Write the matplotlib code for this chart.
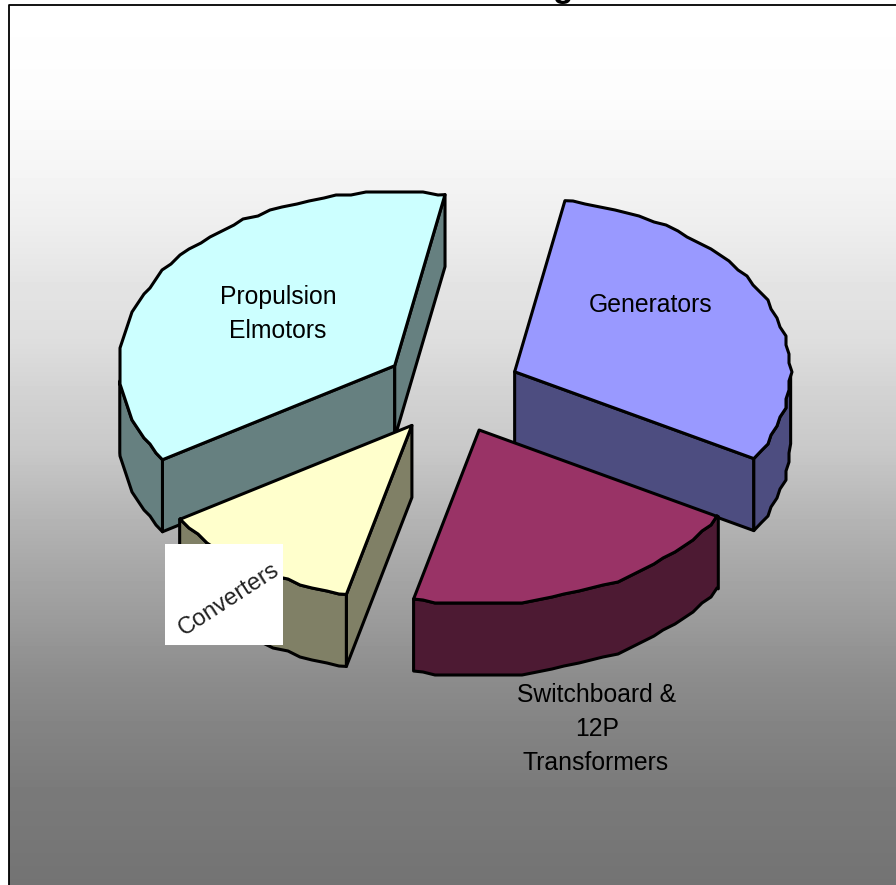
import numpy as np
import matplotlib
matplotlib.use('Agg')
import matplotlib.pyplot as plt

# slices, clockwise from the start angle
categories = ['Generators', 'Switchboard & 12P Transformers', 'Converters', 'Propulsion Elmotors']
values = [30.4, 20.5, 12.1, 37.0]
top_colors = ['#9999FF', '#993366', '#FFFFCC', '#CCFFFF']
side_colors = ['#4D4D80', '#4D1A33', '#808066', '#668080']
draw_order = [3, 0, 2, 1]

# background grey read at a few heights
grad_y = [5, 100, 170, 225, 282, 340, 395, 452, 508, 565, 620, 678, 735, 790, 847, 885]
grad_grey = [255, 252, 245, 238, 228, 222, 210, 200, 183, 168, 155, 140, 130, 122, 118, 115]

# pie geometry in pixels
start_angle = 10.5
cx, cy = 452, 390
rx, ry = 276, 174
depth = 72
explode = 0.25
edge = 2.2
step = 3
grid = 3


def arc(x0, y0, a, b):
    # sample on a fixed angle grid so rim and wall get the same stair steps
    mids = np.arange(np.ceil(a / step) * step, b, step)
    t = np.radians(np.concatenate([[a], mids[mids > a], [b]]))
    xs = x0 + rx * np.sin(t)
    ys = y0 - ry * np.cos(t)
    xr = np.round(xs / grid) * grid
    yr = np.round(ys / grid) * grid
    xr[0], yr[0] = xs[0], ys[0]
    xr[-1], yr[-1] = xs[-1], ys[-1]
    return xr, yr


fig = plt.figure(figsize=(8.96, 8.85), dpi=100)
ax = fig.add_axes([0, 0, 1, 1])
ax.set_xlim(0, 896)
ax.set_ylim(885, 0)
ax.axis('off')

# plot area background
rows = np.arange(5, 885)
grad = np.interp(rows, grad_y, grad_grey).reshape(-1, 1)
ax.imshow(grad, cmap='gray', vmin=0, vmax=255, extent=[9, 896, 885, 5], aspect='auto', zorder=0)
ax.plot([9, 9, 896], [885, 5, 5], color='black', lw=1.3, zorder=1)

# what is left of the title, cut by the image edge
ax.text(563, -3, 'g', fontsize=24, fontweight='bold', family='Liberation Sans',
        ha='center', va='baseline', color='black', clip_on=False)

angles = start_angle + np.concatenate([[0], np.cumsum(values)]) / np.sum(values) * 360

z = 2
for i in draw_order:
    a, b = angles[i], angles[i + 1]
    mid = np.radians((a + b) / 2)
    x0 = cx + explode * rx * np.sin(mid)
    y0 = cy - explode * ry * np.cos(mid)

    # radial walls facing the viewer
    for ang, phi in [(a, a - 90), (b, b + 90)]:
        if np.cos(np.radians(phi)) < 0:
            px = x0 + rx * np.sin(np.radians(ang))
            py = y0 - ry * np.cos(np.radians(ang))
            ax.fill([x0, px, px, x0], [y0, py, py + depth, y0 + depth],
                    facecolor=side_colors[i], edgecolor='black', lw=edge, joinstyle='round', zorder=z)
            z += 1

    # outer wall, only the front of the rim shows
    for lo, hi in [(90, 265), (450, 625)]:
        a1, b1 = max(a, lo), min(b, hi)
        if b1 > a1:
            xs, ys = arc(x0, y0, a1, b1)
            xw = np.concatenate([xs, xs[::-1]])
            yw = np.concatenate([ys, ys[::-1] + depth])
            ax.fill(xw, yw, facecolor=side_colors[i], edgecolor='black', lw=edge, joinstyle='round', zorder=z)
            z += 1

    # top face
    xs, ys = arc(x0, y0, a, b)
    ax.fill(np.concatenate([[x0], xs]), np.concatenate([[y0], ys]),
            facecolor=top_colors[i], edgecolor='black', lw=edge, joinstyle='round', zorder=z)
    z += 1

# labels
font = 'Liberation Sans'
size = 17.8
ax.text(278, 297, 'Propulsion', fontsize=size, family=font, ha='center', va='center', zorder=z)
ax.text(278, 331, 'Elmotors', fontsize=size, family=font, ha='center', va='center', zorder=z)
ax.text(651, 305, 'Generators', fontsize=size, family=font, ha='center', va='center', zorder=z)
ax.text(597, 695, 'Switchboard &', fontsize=size, family=font, ha='center', va='center', zorder=z)
ax.text(597, 729, '12P', fontsize=size, family=font, ha='center', va='center', zorder=z)
ax.text(596, 763, 'Transformers', fontsize=size, family=font, ha='center', va='center', zorder=z)

# white pasted box with the slanted converter label
ax.fill([165, 283, 283, 165], [544, 544, 645, 645], color='white', lw=0, zorder=z + 1)
ax.text(229, 600, 'Converters', fontsize=17, family=font, rotation=33,
        rotation_mode='anchor', ha='center', va='center', color='#222222', zorder=z + 2)

fig.savefig('out.png', dpi=100)
